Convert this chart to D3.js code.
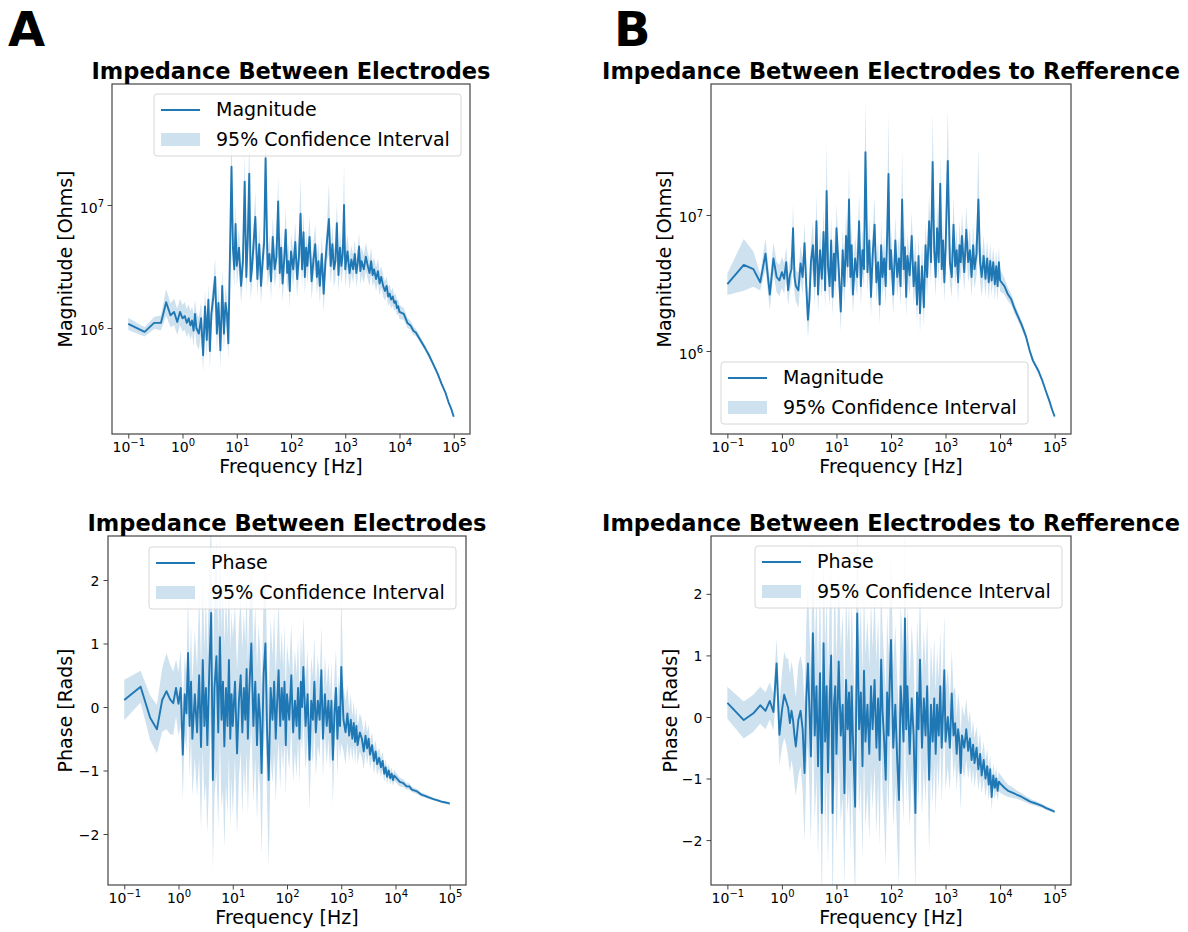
<!DOCTYPE html>
<html>
<head>
<meta charset="utf-8">
<script src="https://cdn.jsdelivr.net/npm/d3@7"></script>
<style>
  body { margin: 0; background: #fff; }
  svg text { font-family: "DejaVu Sans", sans-serif; fill: #000; }
</style>
</head>
<body>
<svg id="fig" width="1188" height="932"></svg>
<script>
// shared frequency grid [Hz]
var freq = [
  0.1, 0.2, 0.3, 0.4, 0.5, 0.6, 0.7, 0.8, 0.9, 1.0,
  1.1, 1.2, 1.3, 1.4, 1.5, 1.6, 1.7, 1.8, 2.0, 2.2,
  2.4, 2.6, 2.8, 3.0, 3.2, 3.4, 3.7, 4.0, 4.3, 4.6,
  5.0, 5.4, 5.8, 6.2, 6.6, 7.0, 7.5, 8.0, 8.5, 9.0,
  9.5, 10, 11, 12, 13, 14, 15, 16, 17, 18,
  19, 20, 22, 24, 26, 28, 30, 32, 34, 37,
  40, 43, 46, 50, 54, 58, 62, 66, 70, 75,
  80, 85, 90, 95, 100, 110, 120, 130, 140, 150,
  160, 170, 180, 190, 200, 220, 240, 260, 280, 300,
  320, 340, 370, 400, 430, 460, 500, 540, 580, 620,
  660, 700, 750, 800, 850, 900, 950, 1000, 1100, 1200,
  1300, 1400, 1500, 1600, 1700, 1800, 1900, 2000, 2200, 2400,
  2600, 2800, 3000, 3200, 3400, 3700, 4000, 4300, 4600, 5000,
  5400, 5800, 6200, 6600, 7000, 7500, 8000, 8500, 9000, 9500,
  10000, 12000, 14000, 16000, 18000, 20000, 25000, 30000, 35000, 40000,
  50000, 60000, 70000, 80000, 90000, 100000
];

// A: magnitude between electrodes [MOhm], CI as multiplicative spread
var magMeanA = [
  1.08, 0.93, 1.1, 1.1, 1.62, 1.27, 1.35, 1.12, 1.35, 1.2,
  1.25, 1.1, 1.2, 1.05, 1.15, 0.95, 1.3, 1.0, 0.9, 1.2,
  0.6, 1.5, 0.8, 1.7, 0.65, 1.3, 1.8, 2.6, 0.9, 1.6,
  0.66, 2.2, 0.9, 1.6, 1.3, 0.75, 4.0, 20.5, 4.5, 3.0,
  7.0, 3.2, 4.5, 2.2, 3.5, 15.5, 2.6, 5.5, 18.0, 2.4,
  3.0, 4.2, 8.0, 2.5, 4.8, 2.2, 3.5, 5.0, 24.0, 3.0,
  4.0, 2.4, 5.5, 3.0, 3.8, 10.7, 2.8, 4.5, 2.3, 3.6,
  6.3, 2.8, 3.5, 2.0, 4.2, 3.0, 5.0, 2.5, 3.8, 8.5,
  3.0, 6.0, 2.6, 4.5, 3.2, 5.5, 2.4, 3.6, 4.8, 2.6,
  3.5, 2.2, 4.0, 1.9, 3.4, 5.0, 7.7, 3.2, 4.8, 3.0,
  3.5, 7.1, 2.7, 4.5, 3.2, 4.0, 10.0, 3.0, 4.2, 2.8,
  3.6, 3.0, 4.0, 2.8, 3.4, 4.6, 2.9, 3.5, 3.0, 3.8,
  3.2, 2.8, 3.5, 2.7, 3.0, 2.5, 2.9, 2.3, 2.6, 2.2,
  2.0, 2.2, 1.8, 1.9, 1.7, 1.8, 1.6, 1.65, 1.45, 1.5,
  1.35, 1.3, 1.1, 1.05, 0.95, 0.92, 0.78, 0.68, 0.6, 0.53,
  0.43, 0.35, 0.3, 0.25, 0.22, 0.19
];
var magSpreadA = [
  1.12, 1.09, 1.12, 1.15, 1.28, 1.25, 1.28, 1.28, 1.28, 1.28,
  1.3, 1.3, 1.3, 1.3, 1.3, 1.35, 1.3, 1.35, 1.35, 1.35,
  1.35, 1.35, 1.4, 1.35, 1.4, 1.35, 1.35, 1.4, 1.4, 1.35,
  1.4, 1.35, 1.4, 1.35, 1.35, 1.35, 1.4, 2.6, 1.4, 1.4,
  1.5, 1.45, 1.4, 1.4, 1.4, 1.7, 1.4, 1.5, 2.2, 1.4,
  1.4, 1.4, 1.6, 1.4, 1.45, 1.4, 1.4, 1.45, 2.5, 1.4,
  1.4, 1.4, 1.45, 1.4, 1.4, 1.6, 1.4, 1.4, 1.4, 1.4,
  1.5, 1.4, 1.4, 1.4, 1.4, 1.4, 1.45, 1.4, 1.4, 2.0,
  1.4, 1.45, 1.4, 1.4, 1.4, 1.45, 1.4, 1.4, 1.45, 1.4,
  1.4, 1.4, 1.4, 1.4, 1.4, 1.4, 1.95, 1.4, 1.4, 1.4,
  1.4, 1.5, 1.4, 1.4, 1.4, 1.4, 2.2, 1.4, 1.35, 1.35,
  1.3, 1.3, 1.3, 1.3, 1.3, 1.3, 1.3, 1.3, 1.3, 1.3,
  1.28, 1.28, 1.28, 1.25, 1.25, 1.25, 1.25, 1.25, 1.22, 1.22,
  1.2, 1.2, 1.2, 1.18, 1.18, 1.18, 1.16, 1.16, 1.15, 1.15,
  1.14, 1.12, 1.1, 1.09, 1.08, 1.07, 1.06, 1.05, 1.05, 1.05,
  1.04, 1.04, 1.03, 1.03, 1.03, 1.03
];

// B: magnitude electrodes to reference [MOhm]
var magMeanB = [
  3.1, 4.3, 4.0, 3.2, 5.2, 2.6, 4.8, 3.5, 3.3, 3.8,
  3.4, 4.5, 2.8, 3.6, 4.0, 8.0, 3.5, 3.0, 2.8, 4.4,
  3.5, 6.2, 3.0, 1.7, 2.4, 4.5, 6.0, 3.0, 9.0, 2.6,
  5.5, 3.4, 7.5, 2.8, 15.0, 4.2, 3.0, 6.5, 2.5, 5.2,
  3.3, 8.0, 4.0, 1.95, 5.5, 3.0, 7.0, 4.2, 13.0, 3.5,
  6.0, 2.6, 4.8, 3.5, 9.0, 3.0, 5.5, 4.0, 29.0, 3.8,
  6.5, 2.5, 5.0, 8.5, 3.2, 4.5, 2.2, 6.0, 3.5, 4.8,
  3.0, 7.0, 20.0, 4.0, 5.5, 2.6, 6.5, 3.5, 4.8, 3.0,
  13.0, 4.0, 5.8, 2.5, 5.0, 3.6, 7.0, 3.0, 4.5, 2.2,
  5.0, 1.9, 4.2, 2.1, 6.0, 3.5, 9.0, 4.5, 24.5, 5.5,
  3.5, 8.0, 4.5, 17.0, 4.0, 6.5, 3.2, 5.5, 25.0, 4.5,
  3.5, 8.5, 4.2, 5.5, 3.2, 6.0, 4.5, 7.0, 3.8, 7.8,
  4.5, 5.5, 3.5, 6.0, 4.0, 5.2, 13.0, 4.5, 3.5, 5.0,
  3.4, 4.8, 3.2, 4.6, 3.3, 4.5, 3.1, 4.2, 3.0, 4.5,
  3.3, 3.0, 2.6, 2.4, 2.1, 1.9, 1.55, 1.27, 1.0, 0.85,
  0.72, 0.6, 0.5, 0.43, 0.37, 0.33
];
var magSpreadB = [
  1.2, 1.55, 1.35, 1.15, 1.3, 1.3, 1.3, 1.3, 1.3, 1.3,
  1.3, 1.3, 1.3, 1.3, 1.3, 1.5, 1.3, 1.3, 1.35, 1.35,
  1.35, 1.4, 1.4, 1.35, 1.4, 1.4, 1.5, 1.4, 1.6, 1.4,
  1.45, 1.4, 1.5, 1.4, 2.3, 1.4, 1.4, 1.5, 1.4, 1.45,
  1.4, 1.5, 1.4, 1.4, 1.45, 1.4, 1.5, 1.4, 1.85, 1.4,
  1.45, 1.4, 1.45, 1.4, 1.6, 1.4, 1.45, 1.4, 2.45, 1.4,
  1.5, 1.4, 1.45, 1.6, 1.4, 1.45, 1.4, 1.5, 1.4, 1.45,
  1.4, 1.5, 2.75, 1.4, 1.45, 1.4, 1.5, 1.4, 1.45, 1.4,
  2.3, 1.4, 1.45, 1.4, 1.45, 1.4, 1.5, 1.4, 1.45, 1.4,
  1.45, 1.4, 1.45, 1.4, 1.5, 1.4, 1.6, 1.45, 2.3, 1.45,
  1.4, 1.5, 1.45, 1.6, 1.4, 1.5, 1.4, 1.45, 2.4, 1.45,
  1.4, 1.6, 1.4, 1.45, 1.4, 1.5, 1.4, 1.5, 1.4, 1.5,
  1.4, 1.45, 1.4, 1.45, 1.4, 1.45, 2.4, 1.4, 1.4, 1.4,
  1.35, 1.35, 1.35, 1.35, 1.3, 1.3, 1.3, 1.3, 1.3, 1.3,
  1.2, 1.15, 1.12, 1.1, 1.1, 1.08, 1.07, 1.06, 1.05, 1.05,
  1.04, 1.04, 1.03, 1.03, 1.03, 1.03
];

// A: phase between electrodes [rad], CI half width
var phaseMeanA = [
  0.11, 0.32, -0.17, -0.35, 0.11, 0.25, 0.12, 0.06, 0.3, 0.05,
  0.3, -0.75, 0.2, -0.1, 0.85, -0.3, 0.4, -0.5, 0.2, -0.4,
  0.5, -0.63, 0.74, -0.3, 0.3, -0.6, 0.6, 1.48, -1.15, 0.3,
  0.8, -0.4, 1.1, -0.2, 0.4, -0.62, 0.3, -0.3, 0.74, -0.5,
  0.2, -0.3, 0.4, -0.73, 0.1, 0.5, -0.4, 0.3, -0.2, 0.6,
  -0.5, 0.2, 1.0, -0.3, 0.4, -0.6, 0.2, -0.2, -1.04, 0.5,
  1.0, -0.4, -1.15, 0.3, -0.2, 0.4, -0.5, 0.1, 0.58, -0.3,
  0.3, -0.2, 0.4, -0.6, 0.2, -0.2, 0.5, -0.4, 0.1, -0.3,
  0.3, -0.5, 0.4, 0.0, 0.63, -0.3, 0.2, -0.83, 0.1, -0.2,
  0.4, -0.4, 0.1, -0.2, 0.58, -0.5, 0.2, -0.3, 0.1, -0.4,
  0.1, -0.83, -0.1, 0.3, -0.5, 0.0, -0.3, 0.63, -0.2, -0.4,
  -0.1, -0.45, -0.2, -0.5, -0.25, -0.55, -0.3, -0.6, -0.4, -0.5,
  -0.7, -0.45, -0.65, -0.5, -0.75, -0.6, -0.85, -0.7, -0.9, -0.8,
  -0.95, -0.85, -1.05, -0.95, -1.1, -1.0, -1.12, -1.05, -1.15, -1.08,
  -1.1, -1.18, -1.2, -1.25, -1.25, -1.3, -1.33, -1.38, -1.4, -1.42,
  -1.45, -1.47, -1.49, -1.5, -1.51, -1.52
];
var phaseErrA = [
  0.32, 0.25, 0.35, 0.38, 0.5, 0.6, 0.55, 0.5, 0.45, 0.5,
  0.6, 0.7, 0.6, 0.6, 0.9, 0.8, 0.9, 0.9, 1.0, 1.0,
  1.3, 1.3, 1.4, 1.2, 1.5, 1.4, 1.6, 1.5, 1.4, 1.7,
  1.8, 1.5, 1.6, 1.4, 1.7, 1.6, 1.5, 1.4, 1.5, 1.4,
  1.3, 1.4, 1.2, 1.3, 1.2, 1.2, 1.3, 1.2, 1.2, 1.3,
  1.2, 1.2, 1.3, 1.2, 1.2, 1.2, 1.1, 1.1, 1.3, 1.2,
  1.2, 1.1, 1.35, 1.1, 1.0, 1.1, 1.0, 1.0, 1.1, 1.0,
  0.9, 0.8, 0.9, 0.8, 0.8, 0.8, 0.8, 0.8, 0.8, 0.8,
  0.8, 0.7, 0.8, 0.7, 0.8, 0.7, 0.7, 0.8, 0.7, 0.7,
  0.7, 0.7, 0.7, 0.6, 0.7, 0.6, 0.6, 0.6, 0.6, 0.6,
  0.6, 0.7, 0.6, 0.6, 0.6, 0.5, 0.5, 1.2, 0.5, 0.5,
  0.45, 0.4, 0.4, 0.35, 0.35, 0.35, 0.3, 0.3, 0.3, 0.3,
  0.28, 0.25, 0.25, 0.22, 0.22, 0.2, 0.2, 0.18, 0.18, 0.16,
  0.15, 0.14, 0.13, 0.12, 0.12, 0.11, 0.1, 0.1, 0.09, 0.09,
  0.08, 0.07, 0.06, 0.05, 0.05, 0.04, 0.04, 0.03, 0.03, 0.03,
  0.02, 0.02, 0.02, 0.02, 0.02, 0.02
];

// B: phase electrodes to reference [rad]
var phaseMeanB = [
  0.23, -0.05, 0.06, 0.19, 0.1, 0.26, 0.08, 0.87, -0.29, 0.1,
  0.36, 0.25, 0.15, -0.1, 0.1, -0.05, -0.3, -0.48, -0.05, 0.1,
  -0.2, -0.91, 0.3, 0.87, 0.1, -0.64, 1.36, -0.3, 0.5, -0.8,
  0.71, -1.56, 1.2, -0.4, 0.5, -0.9, 0.3, 1.0, -1.56, 0.2,
  0.5, -0.6, 0.9, -0.3, 0.2, -1.24, 0.6, -0.2, 0.4, -0.7,
  0.5, -0.3, -1.46, 1.68, -0.2, 0.4, -0.8, 0.75, -0.4, 0.2,
  -0.6, 0.5, -0.2, 0.6, -0.5, 0.3, -0.7, 0.93, 0.1, -0.4,
  -1.02, 0.4, -0.3, 0.6, 1.25, -0.5, 0.2, -0.7, -1.35, 0.5,
  0.1, -0.4, 1.6, -0.2, 0.5, -0.6, 0.3, -0.3, -1.56, 0.4,
  -0.2, 0.93, -0.5, 0.3, -0.3, 0.5, -1.02, 0.2, -0.4, 0.3,
  -0.6, 0.2, -0.3, 0.5, -0.5, 0.1, 0.76, -0.4, 0.0, -0.5,
  0.38, -0.3, -0.1, -0.6, -0.2, -0.4, -0.91, -0.3, -0.5, -0.2,
  -0.55, -0.35, -0.7, -0.45, -0.75, -0.5, -0.85, -0.6, -0.95, -0.7,
  -1.0, -0.8, -1.1, -0.85, -1.3, -0.95, -1.15, -1.0, -1.2, -1.05,
  -1.08, -1.15, -1.2, -1.22, -1.24, -1.26, -1.3, -1.34, -1.37, -1.39,
  -1.42, -1.45, -1.48, -1.5, -1.52, -1.54
];
var phaseErrB = [
  0.26, 0.3, 0.3, 0.3, 0.3, 0.3, 0.3, 0.4, 0.5, 0.6,
  0.7, 0.7, 0.8, 0.8, 0.8, 0.8, 0.8, 0.8, 0.9, 0.9,
  1.0, 1.1, 1.2, 1.3, 1.3, 1.4, 1.5, 1.4, 1.5, 1.5,
  1.6, 1.5, 1.6, 1.5, 1.5, 1.5, 1.5, 1.6, 1.6, 1.5,
  1.5, 1.5, 1.5, 1.4, 1.5, 1.5, 1.5, 1.4, 1.5, 1.5,
  1.4, 1.4, 1.5, 1.6, 1.4, 1.4, 1.5, 1.4, 1.4, 1.4,
  1.4, 1.4, 1.3, 1.4, 1.4, 1.3, 1.4, 1.4, 1.3, 1.3,
  1.4, 1.3, 1.3, 1.3, 1.4, 1.3, 1.3, 1.3, 1.4, 1.3,
  1.3, 1.3, 1.4, 1.2, 1.3, 1.2, 1.2, 1.2, 1.3, 1.2,
  1.2, 1.2, 1.1, 1.1, 1.1, 1.1, 1.2, 1.0, 1.0, 1.0,
  1.0, 0.9, 0.9, 0.9, 0.9, 0.8, 0.9, 0.8, 0.8, 0.7,
  0.7, 0.7, 0.6, 0.6, 0.6, 0.6, 0.6, 0.5, 0.5, 0.5,
  0.45, 0.45, 0.4, 0.4, 0.4, 0.35, 0.35, 0.35, 0.3, 0.3,
  0.3, 0.28, 0.26, 0.24, 0.22, 0.2, 0.2, 0.18, 0.17, 0.16,
  0.15, 0.12, 0.1, 0.09, 0.08, 0.07, 0.06, 0.05, 0.05, 0.04,
  0.04, 0.03, 0.03, 0.03, 0.03, 0.03
];

// axis ticks
var freqTicks = [0.1, 1, 10, 100, 1000, 10000, 100000];
var freqTickExp = ["\u22121", "0", "1", "2", "3", "4", "5"];
var magTicks = [1, 10];          // MOhm
var magTickExp = ["6", "7"];
var phaseTicks = [-2, -1, 0, 1, 2];

var blue = "#1f77b4";
var axisGrey = "#444";
var svg = d3.select("#fig");

function drawPanel(p) {
  var g = svg.append("g");
  var x = d3.scaleLog().domain([Math.pow(10, -1.3), Math.pow(10, 5.3)]).range([p.left, p.right]);
  var y = (p.log ? d3.scaleLog() : d3.scaleLinear()).domain(p.yDomain).range([p.bottom, p.top]);

  svg.append("clipPath").attr("id", "clip" + p.id)
    .append("rect").attr("x", p.left).attr("y", p.top)
    .attr("width", p.right - p.left).attr("height", p.bottom - p.top);

  var rows = freq.map(function (f, i) { return { f: f, m: p.mean[i], e: p.err[i] }; });
  var lo = p.log ? function (d) { return d.m / d.e; } : function (d) { return d.m - d.e; };
  var hi = p.log ? function (d) { return d.m * d.e; } : function (d) { return d.m + d.e; };

  var plot = g.append("g").attr("clip-path", "url(#clip" + p.id + ")");
  plot.append("path").datum(rows)
    .attr("fill", blue).attr("fill-opacity", 0.22)
    .attr("d", d3.area().x(function (d) { return x(d.f); })
      .y0(function (d) { return y(lo(d)); }).y1(function (d) { return y(hi(d)); }));
  plot.append("path").datum(rows)
    .attr("fill", "none").attr("stroke", blue).attr("stroke-width", 1.9)
    .attr("stroke-linejoin", "round")
    .attr("d", d3.line().x(function (d) { return x(d.f); }).y(function (d) { return y(d.m); }));

  // x axis
  var minorX = x.ticks().filter(function (v) { return freqTicks.indexOf(v) < 0; });
  var xg = g.append("g").attr("transform", "translate(0," + p.bottom + ")");
  xg.call(d3.axisBottom(x).tickValues(minorX).tickSize(2.5).tickFormat(""));
  xg.call(d3.axisBottom(x).tickValues(freqTicks).tickSize(4.5).tickSizeOuter(0)
    .tickFormat(function (d, i) { return freqTickExp[i]; }));
  styleAxis(xg);
  xg.selectAll(".tick text").each(function (d, i) {
    var t = d3.select(this);
    t.text(null).attr("y", 17.5).attr("dy", 0);
    t.append("tspan").text("10");
    t.append("tspan").attr("dy", -5.5).attr("font-size", "10px").text(freqTickExp[i]);
  });

  // y axis
  var yg = g.append("g").attr("transform", "translate(" + p.left + ",0)");
  if (p.log) {
    var minorY = y.ticks().filter(function (v) { return magTicks.indexOf(v) < 0; });
    yg.call(d3.axisLeft(y).tickValues(minorY).tickSize(2.5).tickFormat(""));
    yg.call(d3.axisLeft(y).tickValues(magTicks).tickSize(4.5).tickSizeOuter(0).tickFormat(""));
    styleAxis(yg);
    yg.selectAll(".tick").filter(function (d) { return magTicks.indexOf(d) >= 0; })
      .each(function (d) {
        var t = d3.select(this).append("text")
          .attr("x", -8).attr("y", 7).attr("text-anchor", "end").attr("font-size", "14px");
        t.append("tspan").text("10");
        t.append("tspan").attr("dy", -5.5).attr("font-size", "10px").text(magTickExp[magTicks.indexOf(d)]);
      });
  } else {
    yg.call(d3.axisLeft(y).tickValues(phaseTicks).tickSize(4.5).tickSizeOuter(0).tickPadding(4)
      .tickFormat(d3.format("d")));
    styleAxis(yg);
    yg.selectAll(".tick text").attr("dy", "0.36em");
  }

  // spines
  g.append("rect").attr("x", p.left).attr("y", p.top)
    .attr("width", p.right - p.left).attr("height", p.bottom - p.top)
    .attr("fill", "none").attr("stroke", axisGrey).attr("stroke-width", 1.2);

  // title and labels
  g.append("text").attr("x", (p.left + p.right) / 2).attr("y", p.top - 5)
    .attr("text-anchor", "middle").attr("font-size", "22.5px").attr("font-weight", "bold")
    .text(p.title);
  g.append("text").attr("x", (p.left + p.right) / 2).attr("y", p.bottom + 39)
    .attr("text-anchor", "middle").attr("font-size", "19px").text("Frequency [Hz]");
  g.append("text").attr("transform", "translate(" + p.ylabelX + "," + (p.top + p.bottom) / 2 + ") rotate(-90)")
    .attr("text-anchor", "middle").attr("font-size", "19px").text(p.ylabel);

  // legend
  var lg = g.append("g").attr("transform", "translate(" + p.legX + "," + p.legY + ")");
  lg.append("rect").attr("width", 307).attr("height", 62).attr("rx", 3)
    .attr("fill", "#fff").attr("fill-opacity", 0.8).attr("stroke", "#d6d6d6");
  lg.append("line").attr("x1", 7).attr("x2", 46).attr("y1", 16).attr("y2", 16)
    .attr("stroke", blue).attr("stroke-width", 1.9);
  lg.append("text").attr("x", 62).attr("y", 22).attr("font-size", "19px").text(p.legend);
  lg.append("rect").attr("x", 7).attr("y", 39).attr("width", 39).attr("height", 13)
    .attr("fill", blue).attr("fill-opacity", 0.22);
  lg.append("text").attr("x", 62).attr("y", 52).attr("font-size", "19px").text("95% Confidence Interval");
}

function styleAxis(ax) {
  ax.select(".domain").remove();
  ax.selectAll(".tick line").attr("stroke", axisGrey).attr("stroke-width", 1);
  ax.selectAll(".tick text").attr("font-size", "14px").attr("fill", "#222")
    .attr("font-family", "DejaVu Sans, sans-serif");
}

drawPanel({ id: "At", left: 112, right: 470, top: 84, bottom: 434, log: true,
  yDomain: [Math.pow(10, 5.138 - 6), Math.pow(10, 7.984 - 6)],
  mean: magMeanA, err: magSpreadA, title: "Impedance Between Electrodes",
  ylabel: "Magnitude [Ohms]", ylabelX: 72, legend: "Magnitude", legX: 154, legY: 94 });

drawPanel({ id: "Bt", left: 711, right: 1071, top: 84, bottom: 434, log: true,
  yDomain: [Math.pow(10, 5.39 - 6), Math.pow(10, 7.963 - 6)],
  mean: magMeanB, err: magSpreadB, title: "Impedance Between Electrodes to Refference",
  ylabel: "Magnitude [Ohms]", ylabelX: 671, legend: "Magnitude", legX: 721, legY: 362 });

drawPanel({ id: "Ab", left: 108, right: 466, top: 536, bottom: 885, log: false,
  yDomain: [-2.803, 2.693],
  mean: phaseMeanA, err: phaseErrA, title: "Impedance Between Electrodes",
  ylabel: "Phase [Rads]", ylabelX: 72, legend: "Phase", legX: 149, legY: 547 });

drawPanel({ id: "Bb", left: 711, right: 1071, top: 536, bottom: 885, log: false,
  yDomain: [-2.73, 2.94],
  mean: phaseMeanB, err: phaseErrB, title: "Impedance Between Electrodes to Refference",
  ylabel: "Phase [Rads]", ylabelX: 677, legend: "Phase", legX: 755, legY: 546 });

// panel letters
svg.append("text").attr("x", 8).attr("y", 46).attr("font-size", "48px").attr("font-weight", "bold").text("A");
svg.append("text").attr("x", 614).attr("y", 46).attr("font-size", "48px").attr("font-weight", "bold").text("B");
</script>
</body>
</html>
